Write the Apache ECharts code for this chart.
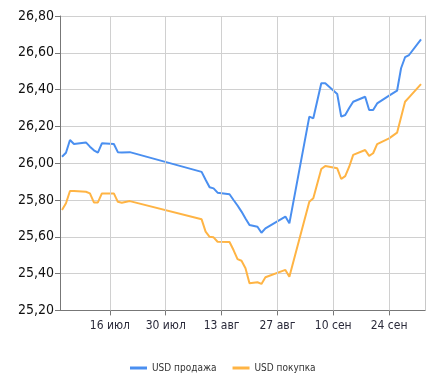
<!DOCTYPE html>
<html>
<head>
<meta charset="utf-8">
<script src="https://cdn.jsdelivr.net/npm/echarts@6/dist/echarts.min.js"></script>
<style>
html,body{margin:0;padding:0;background:#fff;}
#chart{width:430px;height:377px;}
</style>
</head>
<body>
<div id="chart"></div>
<script>
// Dates (MM-DD)
const dates = ['07-04','07-05','07-06','07-07','07-10','07-11','07-12','07-13','07-14','07-17','07-18','07-19','07-21',
  '08-08','08-09','08-10','08-11','08-12','08-15','08-16','08-17','08-18','08-19','08-20','08-22','08-23','08-24','08-29','08-30',
  '09-04','09-05','09-07','09-08','09-11','09-12','09-13','09-14','09-15','09-18','09-19','09-20','09-21','09-24','09-26','09-27','09-28','09-29','10-02'];
const usdSell = [26.035,26.057,26.126,26.104,26.113,26.09,26.07,26.057,26.108,26.104,26.06,26.058,26.06,
  25.953,25.91,25.869,25.863,25.84,25.831,25.80,25.77,25.737,25.70,25.664,25.655,25.622,25.646,25.71,25.673,
  26.253,26.244,26.434,26.434,26.376,26.253,26.262,26.30,26.334,26.361,26.289,26.289,26.325,26.367,26.394,26.516,26.576,26.588,26.673];
const usdBuy = [25.746,25.782,25.849,25.849,25.845,25.836,25.787,25.787,25.836,25.836,25.79,25.785,25.794,
  25.695,25.628,25.60,25.597,25.573,25.572,25.528,25.479,25.47,25.429,25.347,25.353,25.344,25.38,25.42,25.383,
  25.791,25.809,25.968,25.985,25.972,25.914,25.93,25.981,26.045,26.072,26.04,26.054,26.104,26.135,26.166,26.25,26.334,26.358,26.43];
const seriesNames = ['USD продажа','USD покупка'];
const xTickDates = ['07-16','07-30','08-13','08-27','09-10','09-24'];
const xTickLabels = ['16 июл','30 июл','13 авг','27 авг','10 сен','24 сен'];
const yTicks = [25.2,25.4,25.6,25.8,26.0,26.2,26.4,26.6,26.8];

function dayNum(s){
  const p = s.split('-').map(Number);
  return Math.round((Date.UTC(2018,p[0]-1,p[1]) - Date.UTC(2018,6,2)) / 86400000);
}
const labelMap = {};
const tickVals = xTickDates.map(dayNum);
xTickDates.forEach((d,i)=>{ labelMap[dayNum(d)] = xTickLabels[i]; });

const sellData = dates.map((d,i)=>[dayNum(d), usdSell[i]]);
const buyData = dates.map((d,i)=>[dayNum(d), usdBuy[i]]);
const X_MIN = 1.5, X_MAX = 93;

const chart = echarts.init(document.getElementById('chart'), null, {renderer:'canvas'});
chart.setOption({
  animation:false,
  backgroundColor:'#fff',
  grid:{left:60, right:5, top:16, bottom:66.6, containLabel:false},
  xAxis:{
    type:'value', min:X_MIN, max:X_MAX,
    axisLine:{show:true, lineStyle:{color:'#777', width:1}},
    axisTick:{show:true, length:5, lineStyle:{color:'#777'}, customValues:tickVals},
    splitLine:{show:false},
    axisLabel:{
      customValues:tickVals,
      fontFamily:'DejaVu Sans Condensed', fontSize:12, color:'#2a2a3a', margin:9,
      formatter:function(v){ return labelMap[Math.round(v)] || ''; }
    }
  },
  yAxis:[{
    type:'value', min:yTicks[0], max:yTicks[yTicks.length-1], interval:0.2,
    axisLine:{show:true, lineStyle:{color:'#777', width:1}},
    axisTick:{show:true, length:5, lineStyle:{color:'#777'}},
    splitLine:{show:true, lineStyle:{color:'#d0d0d0', width:1}},
    axisLabel:{
      fontFamily:'DejaVu Sans Condensed', fontSize:14, color:'#111', margin:6,
      formatter:function(v){ return v.toFixed(2).replace('.',','); }
    }
  },{
    type:'value', position:'right', min:yTicks[0], max:yTicks[yTicks.length-1],
    axisLine:{show:true, lineStyle:{color:'#c8c8c8', width:1}},
    axisTick:{show:false}, axisLabel:{show:false}, splitLine:{show:false}
  }],
  legend:{
    left:125, top:358, itemWidth:17, itemHeight:3, itemGap:16,
    icon:'rect',
    textStyle:{fontFamily:'DejaVu Sans Condensed', fontSize:10, color:'#333'},
    data:seriesNames
  },
  series:[
    {name:'grid', type:'line', data:[], z:1, silent:true,
     markLine:{silent:true, symbol:'none', label:{show:false},
       lineStyle:{color:'#d0d0d0', width:1, type:'solid'},
       data:tickVals.map(v=>({xAxis:v}))}},
    {name:seriesNames[0], type:'line', data:sellData, showSymbol:false, symbol:'none', z:3,
     lineStyle:{color:'#4a8ff0', width:2}, itemStyle:{color:'#4a8ff0'}},
    {name:seriesNames[1], type:'line', data:buyData, showSymbol:false, symbol:'none', z:3,
     lineStyle:{color:'#ffb444', width:2}, itemStyle:{color:'#ffb444'}}
  ]
});
</script>
</body>
</html>
